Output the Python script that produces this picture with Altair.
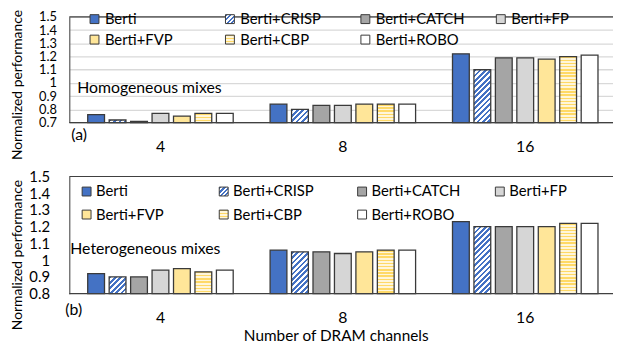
import math
import altair as alt
import pandas as pd

# ---------------- data ----------------
channels = ["4", "8", "16"]
series = ["Berti", "Berti+CRISP", "Berti+CATCH", "Berti+FP",
          "Berti+FVP", "Berti+CBP", "Berti+ROBO"]

homog_4 = [0.76, 0.72, 0.71, 0.77, 0.75, 0.77, 0.77]
homog_8 = [0.84, 0.80, 0.83, 0.83, 0.84, 0.84, 0.84]
homog_16 = [1.22, 1.10, 1.19, 1.19, 1.18, 1.20, 1.21]

hetero_4 = [0.92, 0.90, 0.90, 0.94, 0.95, 0.93, 0.94]
hetero_8 = [1.06, 1.05, 1.05, 1.04, 1.05, 1.06, 1.06]
hetero_16 = [1.23, 1.20, 1.20, 1.20, 1.20, 1.22, 1.22]

# ---------------- style / layout ----------------
FONT = "Lato"
TXT = "#000000"
EDGE = "#3A3A3A"
colors = ["#4472C4", "#FFFFFF", "#A5A5A5", "#D6D6D6", "#FFE699", "#FFF2CC", "#FFFFFF"]
BLUE = "#4472C4"
CBP_LINE = "#FFD966"
CBP_BG = "#FFF6DA"

W, H = 550, 287
GROUP_PX = 184.5
XMAX = W / GROUP_PX
BAR_OFF, BAR_PITCH, BAR_W = 0.101, 0.1176, 0.0921
BAR_W_PX = BAR_W * GROUP_PX

panels = {
    "a": dict(vals=[homog_4, homog_8, homog_16], ymin=0.7, ymax=1.5, rng=[114, 7],
              lab_pad=13, lab_size=13, cat_y=139, tag="(a)", tag_x=2, tag_y=127,
              note="Homogeneous mixes", note_x=8, note_y=79,
              sw_x=[21, 158, 295, 432], tx_off=15, rows=[9.3, 30],
              ytitle_x=-52, ytitle_y=76),
    "b": dict(vals=[hetero_4, hetero_8, hetero_16], ymin=0.8, ymax=1.5, rng=[287, 168.5],
              lab_pad=20, lab_size=15, cat_y=312, tag="(b)", tag_x=-4, tag_y=303.5,
              note="Heterogeneous mixes", note_x=1, note_y=242,
              sw_x=[13, 151.7, 291.7, 431], tx_off=14, rows=[183.7, 207],
              ytitle_x=-52, ytitle_y=248),
}

xs = alt.Scale(domain=[0, XMAX], nice=False, zero=False)
color_scale = alt.Scale(domain=series, range=colors)


def diag_gradient(w, h, ca, cb, period=5.5, duty=0.5):
    s = w + h
    c = (w + h) / (w * w + h * h)
    stops = []
    n = int(math.ceil(s / period)) + 1
    for i in range(n):
        o0 = min(i * period / s, 1)
        o1 = min((i + duty) * period / s, 1)
        o2 = min((i + 1) * period / s, 1)
        stops += [{"offset": o0, "color": ca}, {"offset": o1, "color": ca},
                  {"offset": o1, "color": cb}, {"offset": o2, "color": cb}]
    return {"gradient": "linear", "x1": 0, "y1": 0, "x2": c * w, "y2": c * h,
            "stops": stops}


def hstripe_gradient(h, cline, cbg, period=3.2, duty=0.45):
    stops = []
    n = int(math.ceil(h / period)) + 1
    for i in range(n):
        o0 = min(i * period / h, 1)
        o1 = min((i + duty) * period / h, 1)
        o2 = min((i + 1) * period / h, 1)
        stops += [{"offset": o0, "color": cline}, {"offset": o1, "color": cline},
                  {"offset": o1, "color": cbg}, {"offset": o2, "color": cbg}]
    return {"gradient": "linear", "x1": 0, "y1": 0, "x2": 0, "y2": 1, "stops": stops}


layers = []
for key, p in panels.items():
    rows = []
    for g, vals in enumerate(p["vals"]):
        for s, v in enumerate(vals):
            rows.append({"g": g, "s": s, "series": series[s], "value": v, "base": p["ymin"]})
    df = pd.DataFrame(rows)
    ticks = [round(p["ymin"] + 0.1 * i, 1) for i in range(int(round((p["ymax"] - p["ymin"]) * 10)) + 1)]
    ys = alt.Scale(domain=[p["ymin"], p["ymax"]], range=p["rng"], nice=False, zero=False)
    yaxis = alt.Axis(orient="left", values=ticks, title=None, ticks=False,
                     labelExpr="toString(round(datum.value*10)/10)",
                     labelFont=FONT, labelFontSize=p["lab_size"], labelColor=TXT,
                     labelOverlap=False, labelBound=False,
                     labelPadding=p["lab_pad"], gridColor="#D9D9D9", gridWidth=1.3,
                     domainColor="#595959", domainWidth=1.2)

    base = alt.Chart(df).transform_calculate(
        x0=f"datum.g + {BAR_OFF} + datum.s * {BAR_PITCH}",
        x1=f"datum.g + {BAR_OFF} + datum.s * {BAR_PITCH} + {BAR_W}",
    )
    solid = base.transform_filter(
        "datum.series != 'Berti+CRISP' && datum.series != 'Berti+CBP'"
    ).mark_bar(stroke=EDGE, strokeWidth=1.3).encode(
        x=alt.X("x0:Q", scale=xs, axis=None),
        x2="x1:Q",
        y=alt.Y("value:Q", scale=ys, axis=yaxis),
        y2="base:Q",
        fill=alt.Fill("series:N", scale=color_scale, legend=None),
    )
    plyrs = [solid]
    span = p["rng"][0] - p["rng"][1]
    for g, vals in enumerate(p["vals"]):
        for s in (1, 5):
            v = vals[s]
            h = (v - p["ymin"]) / (p["ymax"] - p["ymin"]) * span
            if s == 1:
                grad = diag_gradient(BAR_W_PX, h, BLUE, "#FFFFFF")
            else:
                grad = hstripe_gradient(h, CBP_LINE, CBP_BG)
            plyrs.append(
                base.transform_filter(f"datum.g == {g} && datum.s == {s}")
                .mark_bar(fill=grad, stroke=EDGE, strokeWidth=1.3)
                .encode(x=alt.X("x0:Q", scale=xs, axis=None), x2="x1:Q",
                        y=alt.Y("value:Q", scale=ys, axis=yaxis), y2="base:Q")
            )
    rule_df = pd.DataFrame({"v": [p["ymin"], p["ymax"]]})
    plyrs.append(
        alt.Chart(rule_df).mark_rule(color="#404040", strokeWidth=1.2).encode(
            y=alt.Y("v:Q", scale=ys, axis=yaxis), x=alt.value(0), x2=alt.value(W))
    )
    layers.append(alt.layer(*plyrs))

    # category labels
    cat_df = pd.DataFrame({"ch": channels, "g": list(range(len(channels)))})
    layers.append(
        alt.Chart(cat_df).transform_calculate(xc="datum.g + 0.5")
        .mark_text(font=FONT, fontSize=16, color=TXT, baseline="middle")
        .encode(x=alt.X("xc:Q", scale=xs, axis=None), y=alt.value(p["cat_y"]), text="ch:N")
    )
    # panel tag, note, y title
    for txt, tx, ty, kw in [
        (p["tag"], p["tag_x"], p["tag_y"], dict(align="left", fontSize=16)),
        (p["note"], p["note_x"], p["note_y"], dict(align="left", fontSize=16)),
        ("Normalized performance", p["ytitle_x"], p["ytitle_y"], dict(align="center", fontSize=14, angle=270)),
    ]:
        layers.append(
            alt.Chart(pd.DataFrame({"t": [txt]}))
            .mark_text(font=FONT, color=TXT, baseline="middle", **kw)
            .encode(x=alt.value(tx), y=alt.value(ty), text="t:N")
        )
    # legend
    leg_rows = []
    for i, name in enumerate(series):
        col, r = i % 4, i // 4
        sx = p["sw_x"][col]
        cy = p["rows"][r]
        leg_rows.append({"series": name, "sx": sx, "sx2": sx + 9, "sy": cy - 4.5,
                         "sy2": cy + 4.5, "tx": sx + p["tx_off"], "ty": cy})
    leg = pd.DataFrame(leg_rows)
    lbase = alt.Chart(leg)
    layers.append(
        lbase.transform_filter("datum.series != 'Berti+CRISP' && datum.series != 'Berti+CBP'")
        .mark_rect(stroke=EDGE, strokeWidth=1)
        .encode(x=alt.X("sx:Q", scale=None), x2="sx2:Q", y=alt.Y("sy:Q", scale=None), y2="sy2:Q",
                fill=alt.Fill("series:N", scale=color_scale, legend=None))
    )
    layers.append(
        lbase.transform_filter("datum.series == 'Berti+CRISP'")
        .mark_rect(stroke=EDGE, strokeWidth=1, fill=diag_gradient(9, 9, BLUE, "#FFFFFF", period=4.5))
        .encode(x=alt.X("sx:Q", scale=None), x2="sx2:Q", y=alt.Y("sy:Q", scale=None), y2="sy2:Q")
    )
    layers.append(
        lbase.transform_filter("datum.series == 'Berti+CBP'")
        .mark_rect(stroke=EDGE, strokeWidth=1, fill=hstripe_gradient(9, CBP_LINE, CBP_BG, period=3))
        .encode(x=alt.X("sx:Q", scale=None), x2="sx2:Q", y=alt.Y("sy:Q", scale=None), y2="sy2:Q")
    )
    layers.append(
        lbase.mark_text(font=FONT, fontSize=15, color=TXT, align="left", baseline="middle")
        .encode(x=alt.X("tx:Q", scale=None), y=alt.Y("ty:Q", scale=None), text="series:N")
    )

# x-axis title
layers.append(
    alt.Chart(pd.DataFrame({"t": ["Number of DRAM channels"]}))
    .mark_text(font=FONT, fontSize=15.5, color=TXT, baseline="middle", align="center")
    .encode(x=alt.value(270), y=alt.value(330), text="t:N")
)

chart = alt.layer(*layers).resolve_scale(y="independent").properties(
    width=W, height=H,
    padding={"left": 62, "top": 0, "right": 0, "bottom": 51},
    autosize=alt.AutoSizeParams(type="none"),
).configure_view(stroke=None)

chart.save("out.html", embed_options={"renderer": "svg", "actions": False})
